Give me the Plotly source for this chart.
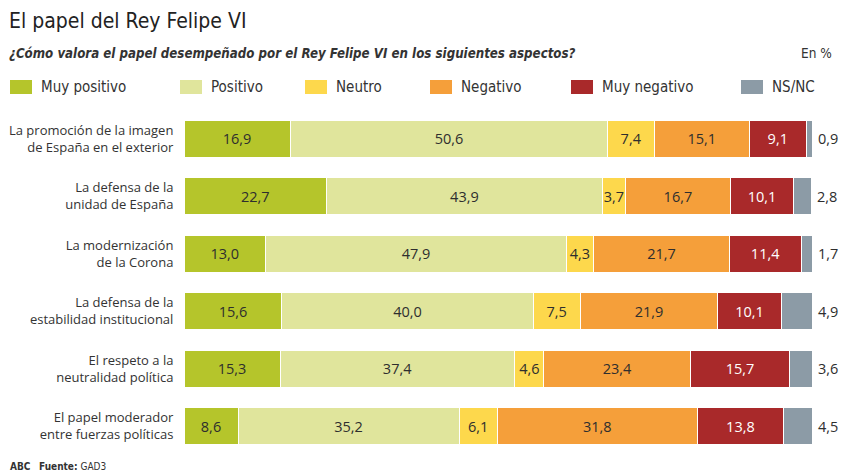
import plotly.graph_objects as go

categories = [
    "La promoción de la imagen<br>de España en el exterior",
    "La defensa de la<br>unidad de España",
    "La modernización<br>de la Corona",
    "La defensa de la<br>estabilidad institucional",
    "El respeto a la<br>neutralidad política",
    "El papel moderador<br>entre fuerzas políticas",
]
series_names = ["Muy positivo", "Positivo", "Neutro", "Negativo", "Muy negativo", "NS/NC"]
muy_positivo = [16.9, 22.7, 13.0, 15.6, 15.3, 8.6]
positivo = [50.6, 43.9, 47.9, 40.0, 37.4, 35.2]
neutro = [7.4, 3.7, 4.3, 7.5, 4.6, 6.1]
negativo = [15.1, 16.7, 21.7, 21.9, 23.4, 31.8]
muy_negativo = [9.1, 10.1, 11.4, 10.1, 15.7, 13.8]
nsnc = [0.9, 2.8, 1.7, 4.9, 3.6, 4.5]
values = [muy_positivo, positivo, neutro, negativo, muy_negativo, nsnc]
colors = ["#b5c52b", "#e0e59c", "#fdd84c", "#f59f3a", "#a9292a", "#8c9ba6"]
text_colors = ["#2e2e2e", "#2e2e2e", "#2e2e2e", "#2e2e2e", "#ffffff", "#2e2e2e"]

W, H = 841, 475
L, R, T, B = 184, 29, 110, 20
pw, ph = W - L - R, H - T - B

def px(x):
    return (x - L) / pw

def py(y):
    return (H - B - y) / ph

FONT = "Liberation Sans Narrow, DejaVu Sans Condensed, Roboto Condensed, Roboto, sans-serif"
LABEL_FONT = "Open Sans"

fig = go.Figure()
for i, (name, vals) in enumerate(zip(series_names, values)):
    last = i == len(series_names) - 1
    fig.add_trace(go.Bar(
        y=categories, x=vals, orientation="h", name=name,
        marker=dict(color=colors[i], line=dict(width=1, color="#ffffff")),
        texttemplate="" if last else "%{x:.1f}",
        textposition="none" if last else "inside",
        insidetextanchor="middle",
        constraintext="none",
        textangle=0,
        cliponaxis=False,
        textfont=dict(family=LABEL_FONT, size=14.5, color=text_colors[i]),
        hoverinfo="skip",
        showlegend=False,
    ))

fig.update_layout(
    width=W, height=H, barmode="stack", bargap=0.35,
    margin=dict(l=L, r=R, t=T, b=B),
    paper_bgcolor="white", plot_bgcolor="white",
    separators=",.",
    xaxis=dict(range=[0, 100], visible=False, fixedrange=True),
    yaxis=dict(autorange="reversed", showline=False, showgrid=False, zeroline=False,
               automargin=False, fixedrange=True,
               ticks="outside", ticklen=7, tickcolor="rgba(0,0,0,0)",
               tickfont=dict(family=LABEL_FONT, size=13, color="#333333")),
)

ann = []
# NS/NC values next to the end of each stacked bar
for cat, *row in zip(categories, *values):
    ann.append(dict(x=sum(row), y=cat, xref="x", yref="y", xanchor="left", yanchor="middle",
                    xshift=4, text=f"{row[-1]:.1f}".replace(".", ","), showarrow=False,
                    font=dict(family=LABEL_FONT, size=14.5, color="#2e2e2e")))

ann.append(dict(x=px(7), y=py(21), xref="paper", yref="paper", xanchor="left", yanchor="middle",
                text="El papel del Rey Felipe VI", showarrow=False,
                font=dict(family=FONT, size=21, color="#222222")))
ann.append(dict(x=px(7), y=py(53), xref="paper", yref="paper", xanchor="left", yanchor="middle",
                text="<b><i>¿Cómo valora el papel desempeñado por el Rey Felipe VI en los siguientes aspectos?</i></b>",
                showarrow=False, font=dict(family=FONT, size=13.2, color="#333333")))
ann.append(dict(x=px(834), y=py(53), xref="paper", yref="paper", xanchor="right", yanchor="middle",
                text="En %", showarrow=False, font=dict(family=FONT, size=13.5, color="#333333")))
ann.append(dict(x=px(8), y=py(466), xref="paper", yref="paper", xanchor="left", yanchor="middle",
                text="<b>ABC</b>   <b>Fuente:</b> GAD3", showarrow=False,
                font=dict(family=FONT, size=10, color="#333333")))

legend_x = [10, 180, 305, 430, 571, 741]
shapes = []
for name, c, lx in zip(series_names, colors, legend_x):
    shapes.append(dict(type="rect", xref="paper", yref="paper",
                       x0=px(lx), x1=px(lx + 22), y0=py(94), y1=py(80),
                       fillcolor=c, line=dict(width=0)))
    ann.append(dict(x=px(lx + 29), y=py(87), xref="paper", yref="paper", xanchor="left", yanchor="middle",
                    text=name, showarrow=False, font=dict(family=FONT, size=15, color="#333333")))

fig.update_layout(annotations=ann, shapes=shapes)
fig.write_html("out.html", config={"displayModeBar": False},
               post_script="document.body.style.margin='0';window.dispatchEvent(new Event('resize'));")
